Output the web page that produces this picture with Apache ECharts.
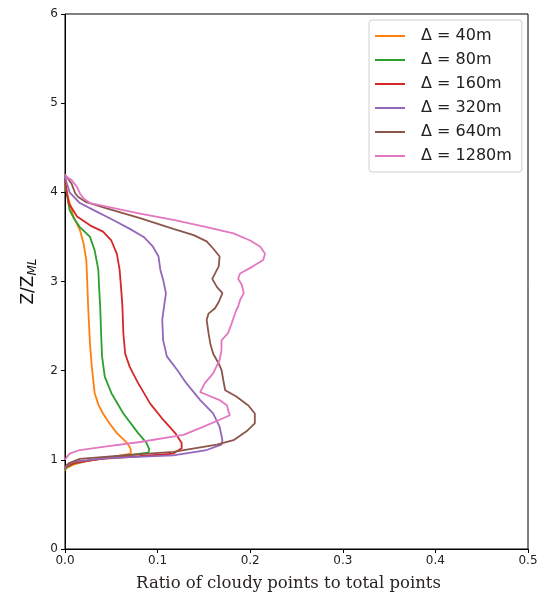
<!DOCTYPE html>
<html><head><meta charset="utf-8">
<script src="https://cdn.jsdelivr.net/npm/echarts@6/dist/echarts.min.js"></script>
<style>html,body{margin:0;padding:0;background:#fff}#c{width:539px;height:594px}</style>
</head><body><div id="c"></div>
<script>
const names = ['Δ = 40m','Δ = 80m','Δ = 160m','Δ = 320m','Δ = 640m','Δ = 1280m'];
const colors = ['#ff7f0e','#2ca02c','#d62728','#9467bd','#8c564b','#e377c2'];
const xTicks = [0.0,0.1,0.2,0.3,0.4,0.5];
const yTicks = [0,1,2,3,4,5,6];
// [ratio, Z/Z_ML]
const d40 = [[0,4.08],[0.002,4.0],[0.005,3.88],[0.009,3.73],[0.016,3.58],[0.020,3.43],[0.023,3.24],[0.024,3.0],[0.025,2.72],[0.026,2.5],[0.027,2.3],[0.029,2.04],[0.032,1.75],[0.036,1.62],[0.041,1.52],[0.048,1.41],[0.056,1.30],[0.067,1.19],[0.071,1.12],[0.071,1.07],[0.05,1.03],[0.025,0.99],[0.01,0.95],[0.002,0.91],[0,0.88]];
const d80 = [[0,4.1],[0.002,3.98],[0.005,3.8],[0.010,3.7],[0.016,3.61],[0.027,3.50],[0.032,3.35],[0.036,3.13],[0.037,2.9],[0.038,2.72],[0.039,2.42],[0.040,2.16],[0.043,1.93],[0.050,1.75],[0.063,1.52],[0.079,1.30],[0.088,1.19],[0.091,1.12],[0.090,1.08],[0.06,1.04],[0.03,1.0],[0.01,0.96],[0.002,0.92],[0,0.89]];
const d160 = [[0,4.15],[0.002,4.0],[0.004,3.88],[0.013,3.73],[0.027,3.63],[0.041,3.56],[0.050,3.46],[0.056,3.31],[0.059,3.13],[0.061,2.87],[0.062,2.72],[0.063,2.42],[0.065,2.19],[0.070,2.04],[0.079,1.86],[0.092,1.63],[0.106,1.45],[0.119,1.30],[0.126,1.19],[0.126,1.13],[0.117,1.07],[0.08,1.04],[0.04,1.01],[0.012,0.97],[0.002,0.93],[0,0.9]];
const d320 = [[0,4.18],[0.002,4.1],[0.005,4.0],[0.016,3.88],[0.031,3.80],[0.052,3.69],[0.070,3.59],[0.085,3.50],[0.095,3.39],[0.101,3.28],[0.103,3.13],[0.106,3.02],[0.109,2.87],[0.107,2.72],[0.105,2.57],[0.106,2.34],[0.110,2.16],[0.121,2.01],[0.131,1.86],[0.146,1.67],[0.160,1.52],[0.167,1.37],[0.170,1.22],[0.169,1.17],[0.153,1.11],[0.117,1.05],[0.045,1.02],[0.009,0.98],[0.002,0.94],[0,0.9]];
const d640 = [[0,4.2],[0.002,4.19],[0.007,4.10],[0.011,3.99],[0.014,3.95],[0.023,3.89],[0.045,3.82],[0.081,3.71],[0.117,3.59],[0.139,3.52],[0.153,3.45],[0.160,3.37],[0.167,3.28],[0.166,3.17],[0.159,3.03],[0.164,2.94],[0.170,2.87],[0.166,2.77],[0.162,2.70],[0.155,2.64],[0.153,2.57],[0.155,2.42],[0.157,2.30],[0.160,2.19],[0.166,2.08],[0.169,2.01],[0.171,1.89],[0.173,1.78],[0.185,1.71],[0.198,1.61],[0.205,1.52],[0.205,1.41],[0.196,1.32],[0.182,1.22],[0.164,1.17],[0.117,1.09],[0.063,1.05],[0.016,1.01],[0.004,0.96],[0,0.92]];
const d1280 = [[0,4.2],[0.002,4.17],[0.007,4.14],[0.013,4.06],[0.016,3.99],[0.020,3.93],[0.027,3.88],[0.045,3.84],[0.081,3.76],[0.117,3.69],[0.153,3.61],[0.182,3.54],[0.200,3.46],[0.211,3.39],[0.216,3.31],[0.214,3.24],[0.203,3.17],[0.189,3.09],[0.187,3.03],[0.191,2.96],[0.193,2.87],[0.189,2.79],[0.187,2.72],[0.185,2.68],[0.180,2.53],[0.176,2.42],[0.169,2.34],[0.169,2.23],[0.167,2.12],[0.160,1.97],[0.151,1.86],[0.146,1.76],[0.153,1.73],[0.167,1.67],[0.175,1.61],[0.176,1.56],[0.178,1.50],[0.167,1.45],[0.149,1.37],[0.128,1.28],[0.081,1.20],[0.045,1.15],[0.016,1.11],[0.005,1.07],[0.002,1.03],[0,1.0]];
const allData = [d40,d80,d160,d320,d640,d1280];

const chart = echarts.init(document.getElementById('c'), null, {renderer:'canvas'});
const tickFont = {fontFamily:'DejaVu Sans', fontSize:12, color:'#222'};
chart.setOption({
  animation:false,
  backgroundColor:'#fff',
  grid:{left:65, right:11, top:14, bottom:45, show:true, borderColor:'#000', borderWidth:1, backgroundColor:'transparent', containLabel:false, outerBoundsMode:'none'},
  legend:{
    orient:'vertical', left:369, top:20,
    data:names.map(n=>({name:n, icon:'path://M0,0 L30,0 L30,2 L0,2 Z'})),
    itemWidth:30, itemHeight:2, itemGap:6,
    textStyle:{fontFamily:'DejaVu Sans', fontSize:16, color:'#222', lineHeight:18, padding:[0,0,0,11]},
    borderColor:'#d0d0d0', borderWidth:1, borderRadius:3, padding:[7,10,7,6], backgroundColor:'#fff'
  },
  xAxis:{
    type:'value', min:xTicks[0], max:xTicks[xTicks.length-1], interval:0.1,
    axisLine:{show:true, onZero:false, lineStyle:{color:'#000', width:1}},
    axisTick:{show:true, length:4, lineStyle:{color:'#000'}},
    axisLabel:{...tickFont, margin:6, formatter:v=>v.toFixed(1)},
    splitLine:{show:false},
    name:'Ratio of cloudy points to total points', nameLocation:'middle', nameGap:26,
    nameTextStyle:{fontFamily:'DejaVu Serif', fontSize:16.5, color:'#2a2420', padding:[0,16,0,0]}
  },
  yAxis:{
    type:'value', min:yTicks[0], max:yTicks[yTicks.length-1], interval:1,
    axisLine:{show:true, onZero:false, lineStyle:{color:'#000', width:1}},
    axisTick:{show:true, length:4, lineStyle:{color:'#000'}},
    axisLabel:{...tickFont, margin:7},
    splitLine:{show:false},
    name:'{a|Z/Z}{b|ML}', nameLocation:'middle', nameGap:26, nameRotate:90,
    nameTextStyle:{rich:{
      a:{fontFamily:'DejaVu Sans', fontSize:17, color:'#111'},
      b:{fontFamily:'DejaVu Sans', fontStyle:'italic', fontSize:12, color:'#111', padding:[8,0,0,0]}
    }}
  },
  series: allData.map((d,i)=>({
    name:names[i], type:'line', data:d, showSymbol:false, symbol:'none', smooth:false,
    lineStyle:{color:colors[i], width:1.8}, itemStyle:{color:colors[i]}, clip:true
  }))
});
</script></body></html>
